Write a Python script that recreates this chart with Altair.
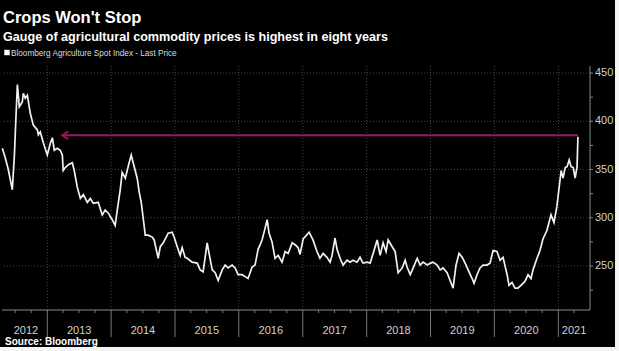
import altair as alt
import pandas as pd

TITLE = "Crops Won't Stop"
SUBTITLE = "Gauge of agricultural commodity prices is highest in eight years"
LEGEND = "Bloomberg Agriculture Spot Index - Last Price"
SOURCE = "Source: Bloomberg"

dates = [
    "2012-04-19", "2012-05-06", "2012-05-23", "2012-06-15", "2012-06-27", "2012-07-05", "2012-07-14",
    "2012-07-25", "2012-08-11", "2012-08-17", "2012-08-28", "2012-09-09", "2012-09-26", "2012-10-13",
    "2012-11-05", "2012-11-11", "2012-11-22", "2012-12-09",
    "2013-01-01", "2013-01-18", "2013-01-30", "2013-02-10", "2013-02-27", "2013-03-16", "2013-03-28",
    "2013-04-02", "2013-04-14", "2013-05-01", "2013-05-24", "2013-06-04", "2013-06-21", "2013-07-09",
    "2013-07-26", "2013-08-18", "2013-09-04", "2013-09-21", "2013-10-19", "2013-11-11", "2013-11-28",
    "2013-12-15",
    "2014-01-07", "2014-01-24", "2014-02-05", "2014-02-22", "2014-03-05", "2014-03-23", "2014-04-03",
    "2014-04-14", "2014-04-26", "2014-05-07", "2014-05-30", "2014-06-11", "2014-06-22", "2014-07-03",
    "2014-07-15", "2014-08-01", "2014-08-24", "2014-09-04", "2014-09-21", "2014-09-27", "2014-10-09",
    "2014-10-26", "2014-11-12", "2014-11-23", "2014-12-16", "2014-12-27",
    "2015-01-14", "2015-01-31", "2015-02-11", "2015-02-28", "2015-03-12", "2015-04-09", "2015-05-08",
    "2015-05-25", "2015-06-11", "2015-07-04", "2015-07-15", "2015-08-02", "2015-08-19", "2015-09-05",
    "2015-09-28", "2015-10-15", "2015-11-01", "2015-11-24", "2015-12-11", "2015-12-28",
    "2016-01-20", "2016-02-06", "2016-02-23", "2016-03-17", "2016-04-03", "2016-04-20", "2016-05-13",
    "2016-05-30", "2016-06-11", "2016-06-22", "2016-07-09", "2016-07-26", "2016-08-13", "2016-09-04",
    "2016-09-22", "2016-10-09", "2016-11-01", "2016-11-18", "2016-12-05", "2016-12-16",
    "2017-01-03", "2017-02-06", "2017-02-28", "2017-03-23", "2017-04-09", "2017-04-27", "2017-05-19",
    "2017-06-06", "2017-06-17", "2017-07-04", "2017-07-16", "2017-08-02", "2017-08-19", "2017-09-11",
    "2017-09-28", "2017-10-15", "2017-11-07", "2017-11-24", "2017-12-11",
    "2018-01-04", "2018-01-21", "2018-02-07", "2018-03-02", "2018-03-19", "2018-04-05", "2018-04-22",
    "2018-05-04", "2018-05-27", "2018-06-13", "2018-06-30", "2018-07-23", "2018-08-09", "2018-08-20",
    "2018-09-07", "2018-09-24", "2018-10-17", "2018-11-03", "2018-11-20", "2018-12-13",
    "2019-01-02", "2019-01-16", "2019-02-08", "2019-02-25", "2019-03-14", "2019-04-06", "2019-04-23",
    "2019-05-10", "2019-05-27", "2019-06-13", "2019-07-01", "2019-07-18", "2019-08-04", "2019-08-27",
    "2019-09-07", "2019-09-24", "2019-10-11", "2019-10-29", "2019-11-20", "2019-12-07", "2019-12-25",
    "2020-01-16", "2020-02-03", "2020-02-20", "2020-03-14", "2020-03-25", "2020-04-11", "2020-04-28",
    "2020-05-15", "2020-06-07", "2020-06-24", "2020-07-12", "2020-07-29", "2020-08-09", "2020-09-01",
    "2020-09-18", "2020-10-05", "2020-10-28", "2020-11-20", "2020-12-07", "2020-12-24",
    "2021-01-06", "2021-01-17", "2021-01-28", "2021-02-09", "2021-02-20", "2021-03-04", "2021-03-15",
    "2021-03-27", "2021-04-07", "2021-04-18", "2021-04-23",
]
prices = [
    372, 362, 350, 329, 365, 401, 438,
    415, 420, 429, 424, 427, 408, 396,
    391, 386, 389, 378,
    365, 377, 383, 370, 372, 370, 365,
    349, 352, 355, 357, 349, 332, 320,
    324, 316, 320, 315, 316, 303, 308,
    305,
    298, 292, 308, 329, 347, 341, 349,
    357, 365, 357, 341, 326, 316, 300,
    282, 282, 280, 277, 263, 258, 270,
    274, 280, 284, 285, 280,
    270, 261, 269, 259, 258, 254, 253,
    246, 244, 274, 263, 246, 243, 235,
    246, 251, 248, 251, 248, 241,
    241, 239, 237, 249, 251, 267, 277,
    289, 298, 284, 275, 258, 261, 254,
    265, 263, 274, 272, 269, 262,
    278, 285, 277, 265, 258, 263, 259,
    254, 261, 279, 267, 258, 251, 256,
    254, 256, 254, 259, 253,
    254, 253, 263, 277, 261, 274, 265,
    277, 270, 265, 243, 248, 256, 249,
    241, 248, 258, 251, 254, 251,
    253, 254, 251, 246, 248, 243, 235,
    227, 251, 263, 259, 253, 246, 237,
    232, 241, 248, 251, 251, 253, 266,
    265, 256, 259, 241, 230, 233, 227,
    227, 231, 234, 241, 237, 246, 258,
    266, 278, 287, 303, 295, 312,
    332, 349, 341, 352, 353, 360, 353,
    352, 341, 353, 384,
]

year_starts = [f"{y}-01-01" for y in range(2013, 2022)]
quarter_ticks = ["2012-07-01", "2012-10-01"] + [
    f"{y}-{m:02d}-01" for y in range(2013, 2022) for m in (4, 7, 10) if not (y == 2021 and m > 4)
]
year_labels = ["2012", "2013", "2014", "2015", "2016", "2017", "2018", "2019", "2020", "2021"]
year_label_pos = ["2012-09-01", "2013-07-02", "2014-07-02", "2015-07-02", "2016-07-02",
                  "2017-07-02", "2018-07-02", "2019-07-02", "2020-07-02", "2021-04-01"]
y_labels = [250, 300, 350, 400, 450]
y_ticks = [225, 250, 275, 300, 325, 350, 375, 400, 425, 450]

arrow_start = "2013-03-28"
arrow_end = "2021-04-23"
arrow_level = 385.5

X_DOMAIN = ["2012-04-17", "2021-07-01"]
Y_DOMAIN = [204.4, 457.3]
W, H = 588, 244
FONT = "Liberation Sans"
RED = "#a3165e"
AXIS_GREY = "#8a8a8a"
GRID = "#474747"
LABEL = "#d0d0d0"

xscale = alt.Scale(domain=X_DOMAIN)
yscale = alt.Scale(domain=Y_DOMAIN, nice=False, zero=False)


def X(field):
    return alt.X(field, scale=xscale, axis=None)


def Y(field):
    return alt.Y(field, scale=yscale, axis=None)


one = pd.DataFrame({"a": [0]})

# grid lines
hgrid = alt.Chart(pd.DataFrame({"v": y_labels})).mark_rule(
    color=GRID, strokeDash=[1, 2], strokeWidth=1
).encode(y=Y("v:Q"))
vgrid = alt.Chart(pd.DataFrame({"d": year_starts})).mark_rule(
    color=GRID, strokeDash=[1, 2], strokeWidth=1
).encode(x=X("d:T"), y=alt.value(0), y2=alt.value(H))

# x axis: domain line, year separators, quarter ticks, labels
x_domain = alt.Chart(one).mark_rule(color=AXIS_GREY).encode(
    x=alt.value(0), x2=alt.value(W), y=alt.value(H)
)
y_sep = alt.Chart(pd.DataFrame({"d": year_starts})).mark_rule(color="#777777").encode(
    x=X("d:T"), y=alt.value(H), y2=alt.value(H + 27)
)
qticks = alt.Chart(pd.DataFrame({"d": quarter_ticks})).mark_rule(color="#777777").encode(
    x=X("d:T"), y=alt.value(H), y2=alt.value(H + 3)
)
xlab = alt.Chart(pd.DataFrame({"d": year_label_pos, "t": year_labels})).mark_text(
    color=LABEL, fontSize=11, font=FONT, baseline="alphabetic", align="center"
).encode(x=X("d:T"), y=alt.value(H + 24), text="t:N")

# y axis on the right: domain line, ticks, labels
y_domain = alt.Chart(one).mark_rule(color=AXIS_GREY).encode(
    x=alt.value(W), y=alt.value(0), y2=alt.value(H)
)
yticks = alt.Chart(pd.DataFrame({"v": y_ticks})).mark_rule(color=AXIS_GREY).encode(
    y=Y("v:Q"), x=alt.value(W), x2=alt.value(W + 3)
)
ylab = alt.Chart(pd.DataFrame({"v": y_labels})).mark_text(
    color=LABEL, fontSize=11, font=FONT, baseline="middle", align="left"
).encode(y=Y("v:Q"), x=alt.value(W + 5), text="v:Q")

# price line
line = alt.Chart(pd.DataFrame({"date": dates, "price": prices})).mark_line(
    color="#f2f2f2", strokeWidth=1.7
).encode(x=X("date:T"), y=Y("price:Q"))

# annotation arrow
arrow = alt.Chart(pd.DataFrame({"a": [arrow_start], "b": [arrow_end], "v": [arrow_level]})).mark_rule(
    color=RED, strokeWidth=2
).encode(x=X("a:T"), x2="b:T", y=Y("v:Q"))
head = alt.Chart(pd.DataFrame({"a": [arrow_start], "v": [arrow_level]})).mark_point(
    shape="M 1.2 -0.8 L 0 0 L 1.2 0.8", size=100, filled=False, color=RED, strokeWidth=2, opacity=1
).encode(x=X("a:T"), y=Y("v:Q"))


def label(text, x, y, size, bold=False, color="#ffffff"):
    return alt.Chart(pd.DataFrame({"t": [text]})).mark_text(
        align="left", baseline="alphabetic", fontSize=size, font=FONT,
        fontWeight="bold" if bold else "normal", color=color,
    ).encode(text="t:N", x=alt.value(x), y=alt.value(y))


title = label(TITLE, 1, -43, 16.5, True)
subtitle = label(SUBTITLE, 1, -25, 12.6, True)
legend_text = label(LEGEND, 9, -10, 8.2, False, "#dddddd")
source = label(SOURCE, 3, 279, 10, True)

legend_sq = alt.Chart(one).mark_square(color="#ffffff", size=30, opacity=1).encode(
    x=alt.value(5), y=alt.value(-13.5)
)

# light frame strips at the right and bottom edges of the picture
edge_r = alt.Chart(one).mark_rect(color="#f4f4f4").encode(
    x=alt.value(613), x2=alt.value(620), y=alt.value(-70), y2=alt.value(290)
)
edge_b = alt.Chart(one).mark_rect(color="#f4f4f4").encode(
    x=alt.value(-5), x2=alt.value(620), y=alt.value(281), y2=alt.value(290)
)

chart = alt.layer(
    hgrid, vgrid, x_domain, y_sep, qticks, xlab, y_domain, yticks, ylab,
    line, arrow, head, title, subtitle, legend_sq, legend_text, source, edge_r, edge_b,
).properties(
    width=W, height=H,
    padding={"left": 2, "top": 66, "right": 29, "bottom": 41},
    autosize=alt.AutoSizeParams(type="none"),
    background="#000000",
).configure_view(stroke=None)

chart.save("out.html", embed_options={"renderer": "svg", "actions": False})
